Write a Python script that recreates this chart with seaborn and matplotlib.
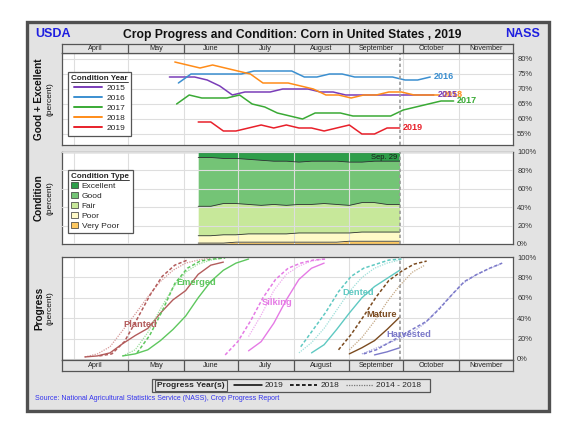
import numpy as np
import pandas as pd
import matplotlib
matplotlib.use("Agg")
import matplotlib.pyplot as plt
from matplotlib.lines import Line2D
from matplotlib.patches import Patch, Rectangle
import seaborn as sns

sns.set_theme(style="white")
plt.rcParams["font.family"] = ["Liberation Sans", "DejaVu Sans"]

# %%
# Condition: good + excellent by year (weekly, placed on the 2019 calendar)
cond_years = ["2015", "2016", "2017", "2018", "2019"]
cond_start = ["2019-05-24", "2019-05-29", "2019-05-28", "2019-05-27", "2019-06-09"]
ge_2015 = [74, 74, 74, 73, 71, 68, 69, 69, 69, 70, 70, 70, 69, 69, 68, 68, 68, 68, 68, 68, 68, 68]
ge_2016 = [72, 75, 75, 75, 75, 75, 76, 76, 76, 76, 74, 74, 75, 75, 74, 74, 74, 74, 73, 73, 74]
ge_2017 = [65, 68, 67, 67, 67, 68, 65, 64, 62, 61, 60, 62, 62, 62, 61, 61, 61, 61, 63, 64, 65, 66, 66]
ge_2018 = [79, 78, 77, 78, 77, 76, 75, 72, 72, 72, 71, 70, 68, 68, 67, 68, 68, 69, 69, 68, 68, 68]
ge_2019 = [59, 59, 56, 56, 57, 58, 57, 58, 57, 57, 56, 57, 58, 55, 55, 57, 57]
year_colors = ["#7a3db8", "#3b8fd0", "#3aaa35", "#ff8c19", "#e8202a"]

# Condition type 2019
type_start = "2019-06-09"
cond_types = ["Excellent", "Good", "Fair", "Poor", "Very Poor"]
excellent = [6, 6, 7, 7, 8, 9, 10, 10, 11, 10, 10, 10, 11, 11, 10, 10, 10]
good = [53, 53, 49, 49, 49, 49, 47, 48, 46, 47, 46, 47, 47, 44, 45, 47, 47]
fair = [32, 32, 34, 34, 32, 31, 32, 31, 31, 31, 32, 31, 30, 32, 32, 30, 30]
poor = [8, 8, 9, 8, 9, 9, 9, 9, 10, 10, 10, 10, 9, 10, 10, 10, 10]
very_poor = [1, 1, 1, 2, 2, 2, 2, 2, 2, 2, 2, 2, 3, 3, 3, 3, 3]
type_colors = ["#2e9e4a", "#74c476", "#c7e89a", "#fffac8", "#fdc860"]

# Progress (start date of weekly series, values)
stages = ["Planted", "Emerged", "Silking", "Dented", "Mature", "Harvested"]
planted_2019 = ("2019-04-07", [2, 3, 6, 15, 23, 30, 45, 58, 67, 83, 92, 95])
planted_2018 = ("2019-04-15", [3, 5, 17, 39, 62, 81, 92, 97])
planted_avg = ("2019-04-07", [2, 5, 12, 28, 44, 61, 76, 87, 94, 97, 99])
emerged_2019 = ("2019-04-28", [3, 5, 9, 18, 29, 42, 60, 76, 87, 94, 98])
emerged_2018 = ("2019-05-06", [6, 23, 47, 74, 89, 96, 98, 99])
emerged_avg = ("2019-04-28", [3, 9, 26, 49, 70, 85, 93, 97, 99])
silking_2019 = ("2019-07-07", [8, 17, 35, 58, 78, 89, 94])
silking_2018 = ("2019-06-24", [4, 17, 37, 60, 78, 89, 94, 97, 98])
silking_avg = ("2019-07-07", [22, 43, 67, 83, 91, 96, 98])
dented_2019 = ("2019-08-11", [6, 14, 29, 45, 60, 71, 79, 87])
dented_2018 = ("2019-08-05", [12, 29, 46, 66, 81, 89, 93, 97, 98])
dented_avg = ("2019-08-04", [6, 16, 30, 48, 66, 80, 89, 94, 97])
mature_2019 = ("2019-09-01", [5, 11, 18, 29, 41])
mature_2018 = ("2019-08-26", [9, 24, 42, 61, 77, 86, 93, 96])
mature_avg = ("2019-09-01", [9, 21, 37, 56, 72, 85, 92])
harvested_2019 = ("2019-09-15", [4, 7, 11])
harvested_2018 = ("2019-09-09", [5, 9, 16, 23, 30, 37, 49, 63, 76, 83, 89, 94])
harvested_avg = ("2019-09-08", [5, 10, 15, 20, 26, 35, 48, 61, 74, 82, 88, 93])

stage_colors = ["#b35c5c", "#5ec75e", "#e57ae5", "#5fc9c2", "#7b4b20", "#7b79c9"]
stage_light = ["#d79a9a", "#9cdf9c", "#efaaef", "#9fe0da", "#c4a885", "#a9a8de"]

months = ["April", "May", "June", "July", "August", "September", "October", "November"]
month_starts = pd.to_datetime(["2019-04-01", "2019-05-01", "2019-06-01", "2019-07-01",
                               "2019-08-01", "2019-09-01", "2019-10-01", "2019-11-01",
                               "2019-12-01"])
current = pd.Timestamp("2019-09-29")

# %%
W, H = 562, 424
BG = "#e3e3e3"
EDGE = "#555555"
x0, x1 = pd.Timestamp("2019-03-25 07:00"), pd.Timestamp("2019-12-01")


def rect(l, t, r, b):
    return [l / W, 1 - b / H, (r - l) / W, (b - t) / H]


def weekly(series):
    start, vals = series
    return pd.date_range(start, periods=len(vals), freq="7D"), vals


fig = plt.figure(figsize=(W / 100, H / 100), dpi=100, facecolor="white")
fig.patches.append(Rectangle((27 / W, 1 - 411 / H), 522 / W, 389 / H, transform=fig.transFigure,
                             fc=BG, ec="#505050", lw=2.4, zorder=-10))

ax_top = fig.add_axes(rect(62, 53, 513, 145))
ax_mid = fig.add_axes(rect(62, 152, 513, 244))
ax_bot = fig.add_axes(rect(62, 257, 513, 360))
hd_top = fig.add_axes(rect(62, 44, 513, 53))
hd_bot = fig.add_axes(rect(62, 360, 513, 371))


def style_panel(ax, yticks):
    ax.set_facecolor("white")
    ax.set_xlim(x0, x1)
    ax.set_xticks(month_starts[:-1])
    ax.set_xticklabels([])
    ax.set_yticks(yticks)
    ax.set_yticklabels([f"{v}%" for v in yticks])
    ax.yaxis.tick_right()
    ax.tick_params(axis="both", length=0)
    ax.tick_params(axis="y", labelsize=5.4, labelcolor="#333333", pad=3)
    ax.grid(True, color="#dedede", lw=0.8)
    ax.set_xlabel("")
    ax.set_ylabel("")
    for s in ax.spines.values():
        s.set_color(EDGE)
        s.set_linewidth(0.9)
    ax.axvline(current, color="#9a9a9a", ls=(0, (2, 1.6)), lw=1.2, zorder=6)


for hd in (hd_top, hd_bot):
    hd.set_facecolor(BG)
    hd.set_xlim(x0, x1)
    hd.set_ylim(0, 1)
    hd.set_xticks([])
    hd.set_yticks([])
    for s in hd.spines.values():
        s.set_color(EDGE)
        s.set_linewidth(0.9)
    for m in month_starts[1:-1]:
        hd.axvline(m, color=EDGE, lw=0.9)
    lefts = [x0] + list(month_starts[1:-1])
    rights = list(month_starts[1:])
    for name, a, b in zip(months, lefts, rights):
        hd.text(a + (b - a) / 2, 0.5, name, ha="center", va="center", fontsize=5.2, color="#222222")

# %%
# Top panel: good + excellent
cond_df = pd.concat([
    pd.DataFrame({"date": pd.date_range(s, periods=len(v), freq="7D"), "ge": v, "year": y})
    for y, s, v in zip(cond_years, cond_start, [ge_2015, ge_2016, ge_2017, ge_2018, ge_2019])
], ignore_index=True)
sns.lineplot(data=cond_df, x="date", y="ge", hue="year", palette=year_colors, lw=1.1,
             ax=ax_top, legend=False, errorbar=None)
style_panel(ax_top, [55, 60, 65, 70, 75, 80])
ax_top.set_ylim(51.33, 82)
for y, c in zip(cond_years, year_colors):
    last = cond_df[cond_df["year"] == y].iloc[-1]
    ax_top.annotate(y, (last["date"], last["ge"]), xytext=(2.5, 0), textcoords="offset points",
                    ha="left", va="center", color=c, fontsize=6.5, fontweight="bold",
                    zorder=8 if y == "2015" else 7)
leg_top = ax_top.legend([Line2D([], [], color=c, lw=1.4) for c in year_colors], cond_years,
                        title="Condition Year", loc="upper left", bbox_to_anchor=(0.004, 0.84),
                        fontsize=6, title_fontsize=5.8, handlelength=3.4, labelspacing=0.26,
                        borderpad=0.4, handletextpad=0.6, frameon=True, fancybox=False,
                        edgecolor=EDGE, facecolor="white", framealpha=1)
leg_top.get_title().set_fontweight("bold")
leg_top.get_frame().set_linewidth(0.9)

# %%
# Middle panel: condition type stacked area
type_dates = pd.date_range(type_start, periods=len(excellent), freq="7D")
layers = [very_poor, poor, fair, good, excellent]
ax_mid.stackplot(type_dates, layers, colors=type_colors[::-1], lw=0, zorder=2)
cum = np.cumsum(np.array(layers), axis=0)
for row in cum[:-1]:
    sns.lineplot(x=type_dates, y=row, color="#333333", lw=0.6, ax=ax_mid, errorbar=None, zorder=3)
style_panel(ax_mid, [0, 20, 40, 60, 80, 100])
ax_mid.set_ylim(0, 100)
ax_mid.set_axisbelow(False)
ax_mid.annotate("Sep. 29", (current, 94), xytext=(-2, 0), textcoords="offset points",
                ha="right", va="center", fontsize=5.5, color="#1a1a1a", zorder=7)
leg_mid = ax_mid.legend([Patch(fc=c, ec="#333333", lw=0.5) for c in type_colors], cond_types,
                        title="Condition Type", loc="upper left", bbox_to_anchor=(0.004, 0.85),
                        fontsize=6, title_fontsize=5.8, handlelength=0.75, handleheight=0.75,
                        labelspacing=0.24, borderpad=0.4, handletextpad=0.5, frameon=True,
                        fancybox=False, edgecolor=EDGE, facecolor="white", framealpha=1,
                        alignment="left")
leg_mid.get_title().set_fontweight("bold")
leg_mid.get_frame().set_linewidth(0.9)

# %%
# Bottom panel: progress
progress = [
    (planted_2019, planted_2018, planted_avg),
    (emerged_2019, emerged_2018, emerged_avg),
    (silking_2019, silking_2018, silking_avg),
    (dented_2019, dented_2018, dented_avg),
    (mature_2019, mature_2018, mature_avg),
    (harvested_2019, harvested_2018, harvested_avg),
]
for (cur, prev, avg), c, cl in zip(progress, stage_colors, stage_light):
    d, v = weekly(avg)
    sns.lineplot(x=d, y=v, color=cl, lw=0.9, linestyle=(0, (1, 1)), ax=ax_bot, errorbar=None)
    d, v = weekly(prev)
    sns.lineplot(x=d, y=v, color=c, lw=1.1, linestyle=(0, (2.2, 1.4)), ax=ax_bot, errorbar=None)
    d, v = weekly(cur)
    sns.lineplot(x=d, y=v, color=c, lw=1.0, ax=ax_bot, errorbar=None)
style_panel(ax_bot, [0, 20, 40, 60, 80, 100])
ax_bot.set_ylim(-1, 100)

label_pos = {"Planted": ("2019-05-08", 34), "Emerged": ("2019-06-08", 75),
             "Silking": ("2019-07-23", 55), "Dented": ("2019-09-06", 65),
             "Mature": ("2019-09-19", 44), "Harvested": ("2019-10-04", 24)}
for s, c in zip(stages, stage_colors):
    d, p = label_pos[s]
    ax_bot.text(pd.Timestamp(d), p, s, color=c, fontsize=6.7, fontweight="bold",
                ha="center", va="center", zorder=7)

# %%
# Titles and side labels
fig.text(35 / W, 1 - 34 / H, "USDA", color="#1f1fe0", fontsize=9, fontweight="bold", va="center")
fig.text(540 / W, 1 - 34 / H, "NASS", color="#1f1fe0", fontsize=9, fontweight="bold",
         va="center", ha="right")
fig.text(292 / W, 1 - 35 / H, "Crop Progress and Condition: Corn in United States , 2019",
         fontsize=8.7, fontweight="bold", ha="center", va="center", color="#111111")
for label, yc in [("Good + Excellent", 99), ("Condition", 198), ("Progress", 308.5)]:
    fig.text(39 / W, 1 - yc / H, label, rotation=90, fontsize=7.2, fontweight="bold",
             ha="center", va="center", color="#111111")
    fig.text(50 / W, 1 - yc / H, "(percent)", rotation=90, fontsize=6, ha="center",
             va="center", color="#111111")
fig.text(35 / W, 1 - 399 / H,
         "Source: National Agricultural Statistics Service (NASS), Crop Progress Report",
         color="#3333ee", fontsize=5, va="center")

# Progress year legend
fig.patches.append(Rectangle((152 / W, 1 - 392 / H), 278 / W, 13 / H, transform=fig.transFigure,
                             fc=BG, ec=EDGE, lw=0.9, zorder=5))
fig.text(157 / W, 1 - 385.5 / H, "Progress Year(s)", fontsize=6, fontweight="bold",
         va="center", ha="left", zorder=6,
         bbox=dict(boxstyle="square,pad=0.28", fc=BG, ec=EDGE, lw=0.8))
yr_handles = [Line2D([], [], color="black", lw=1.1),
              Line2D([], [], color="black", lw=1.2, ls=(0, (2.2, 1.4))),
              Line2D([], [], color="#777777", lw=0.9, ls=(0, (1, 1)))]
fig.legend(yr_handles, ["2019", "2018", "2014 - 2018"], ncol=3, loc="center left",
           bbox_to_anchor=(234 / W, 1 - 385.5 / H), frameon=False, fontsize=6,
           handlelength=3.3, handletextpad=0.35, columnspacing=0.8, borderpad=0,
           borderaxespad=0)

# underline the legend titles
fig.canvas.draw()
renderer = fig.canvas.get_renderer()
for leg in (leg_top, leg_mid):
    bb = leg.get_title().get_window_extent(renderer).transformed(fig.transFigure.inverted())
    fig.add_artist(Line2D([bb.x0, bb.x1], [bb.y0 + 0.001, bb.y0 + 0.001],
                          transform=fig.transFigure, color="#222222", lw=0.6, zorder=20))

fig.savefig("out.png", dpi=100, facecolor="white")
